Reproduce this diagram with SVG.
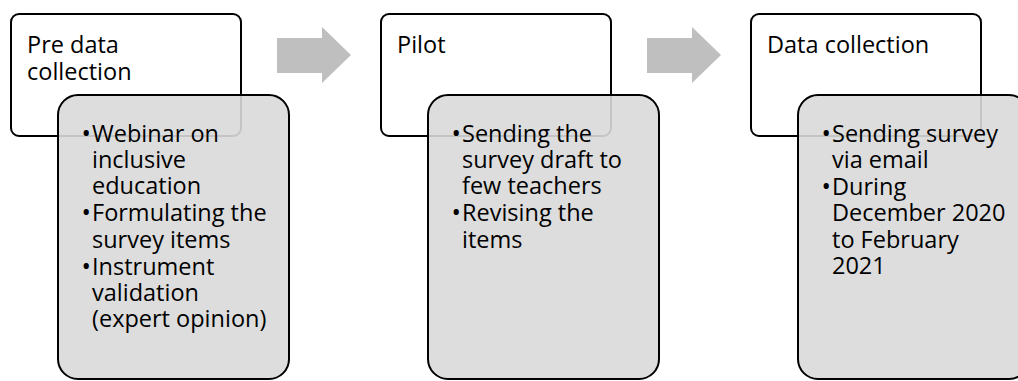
<svg xmlns="http://www.w3.org/2000/svg" width="1018" height="381" viewBox="0 0 1018 381">
<style>
.title{fill:#fff;stroke:#000;stroke-width:2}
.detail{fill:#d9d9d9;fill-opacity:0.9;stroke:#000;stroke-width:2}
.arrow{fill:#bfbfbf}
text{font-family:"Open Sans","Liberation Sans",sans-serif;font-size:23.5px;fill:#000}
.b{font-size:25px}
</style>
<rect width="1018" height="381" fill="#fff"/>
<g id="connectors">
<polygon class="arrow" points="277,38 322,38 322,27 351,55 322,83 322,73 277,73"/>
<polygon class="arrow" points="647,38 692,38 692,27 721,55 692,83 692,73 647,73"/>
</g>
<g id="node1">
<rect class="title" x="11" y="14" width="230" height="122" rx="8"/>
<text x="27" y="53">Pre data</text>
<text x="27" y="80">collection</text>
<rect class="detail" x="58" y="95" width="231" height="284" rx="20"/>
<text x="81.5" y="141.5"><tspan class="b">•</tspan><tspan x="92">Webinar on</tspan></text>
<text x="92" y="167.9">inclusive</text>
<text x="92" y="194.3">education</text>
<text x="81.5" y="221.2"><tspan class="b">•</tspan><tspan x="92">Formulating the</tspan></text>
<text x="92" y="247.6">survey items</text>
<text x="81.5" y="274.5"><tspan class="b">•</tspan><tspan x="92">Instrument</tspan></text>
<text x="92" y="300.9">validation</text>
<text x="92" y="327.3">(expert opinion)</text>
</g>
<g id="node2">
<rect class="title" x="381" y="14" width="230" height="122" rx="8"/>
<text x="397" y="53">Pilot</text>
<rect class="detail" x="428" y="95" width="231" height="284" rx="20"/>
<text x="451.5" y="141.5"><tspan class="b">•</tspan><tspan x="462">Sending the</tspan></text>
<text x="462" y="167.9">survey draft to</text>
<text x="462" y="194.3">few teachers</text>
<text x="451.5" y="221.2"><tspan class="b">•</tspan><tspan x="462">Revising the</tspan></text>
<text x="462" y="247.6">items</text>
</g>
<g id="node3">
<rect class="title" x="751" y="14" width="230" height="122" rx="8"/>
<text x="767" y="53">Data collection</text>
<rect class="detail" x="798" y="95" width="231" height="284" rx="20"/>
<text x="821.5" y="141.5"><tspan class="b">•</tspan><tspan x="832">Sending survey</tspan></text>
<text x="832" y="167.9">via email</text>
<text x="821.5" y="194.8"><tspan class="b">•</tspan><tspan x="832">During</tspan></text>
<text x="832" y="221.2">December 2020</text>
<text x="832" y="247.6">to February</text>
<text x="832" y="274">2021</text>
</g>
</svg>
